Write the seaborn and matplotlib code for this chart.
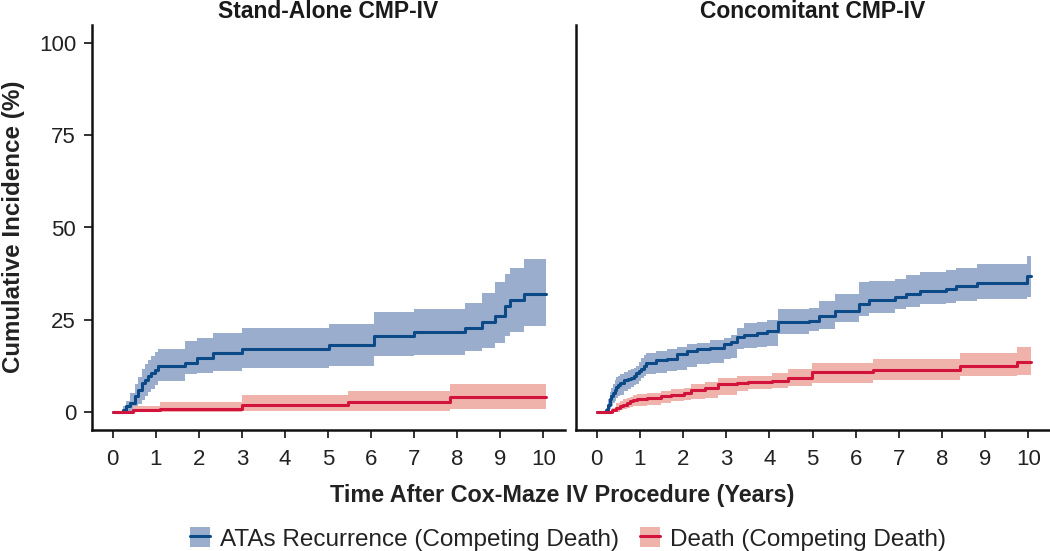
import seaborn as sns
import matplotlib.pyplot as plt
import pandas as pd
from matplotlib.lines import Line2D
from matplotlib.patches import Patch

sns.set_theme(style="ticks")
plt.rcParams["font.family"] = ["Liberation Sans", "DejaVu Sans"]

panels = ["Stand-Alone CMP-IV", "Concomitant CMP-IV"]
series_names = ["ATAs Recurrence (Competing Death)", "Death (Competing Death)"]

# Stand-Alone: ATAs recurrence
sa_ata_time = [0, 0.24, 0.32, 0.40, 0.51, 0.59, 0.67, 0.75, 0.82, 0.90, 0.98, 1.05,
               1.68, 1.95, 2.34, 3.0, 5.03, 6.07, 7.0, 8.18, 8.57, 8.88, 9.1, 9.23,
               9.55, 10.05]
sa_ata_est = [0, 0.5, 1.4, 2.4, 4.2, 6.0, 7.8, 8.7, 9.6, 10.5, 11.4, 12.3,
              13.3, 14.6, 16.0, 17.1, 18.0, 20.5, 21.6, 22.8, 24.2, 26.0, 28.7, 30.3,
              31.9, 31.9]
sa_ata_lo = [0, 0, 0, 0.2, 1.0, 2.0, 3.2, 4.2, 5.2, 6.2, 7.3, 8.3,
             10.1, 10.6, 11.0, 11.9, 12.3, 15.1, 15.3, 16.4, 17.3, 18.5, 20.5, 21.5,
             23.2, 23.2]
sa_ata_hi = [0, 1.5, 3.0, 5.0, 7.5, 9.5, 11.5, 12.8, 14.0, 15.0, 16.2, 16.9,
             19.2, 20.1, 21.4, 22.6, 23.7, 27.1, 27.8, 29.6, 32.3, 35.1, 37.3, 39.1,
             41.4, 41.4]

# Stand-Alone: death
sa_death_time = [0, 0.47, 1.1, 3.0, 5.46, 7.83, 10.05]
sa_death_est = [0, 0.4, 0.8, 1.9, 2.5, 4.0, 4.0]
sa_death_lo = [0, 0, 0, 0.1, 0.2, 0.6, 0.6]
sa_death_hi = [0, 1.6, 2.5, 4.4, 5.5, 7.6, 7.6]

# Concomitant: ATAs recurrence
cc_ata_time = [0, 0.22, 0.26, 0.30, 0.34, 0.38, 0.42, 0.45, 0.49, 0.53,
               0.64, 0.72, 0.80, 0.86, 0.91, 0.97, 1.03, 1.09, 1.15,
               1.38, 1.62, 1.85, 2.08, 2.32, 2.63, 2.94, 3.1, 3.25, 3.41,
               3.72, 3.95, 4.21, 4.91, 5.14, 5.53, 6.08, 6.31, 6.9, 7.17,
               7.48, 8.1, 8.33, 8.8, 9.97, 10.05]
cc_ata_est = [0, 0.4, 1.8, 3.3, 4.2, 5.1, 6.0, 6.8, 7.3, 7.8,
              8.5, 8.8, 9.2, 9.8, 10.4, 11.0, 11.5, 12.4, 13.3,
              14.0, 14.4, 15.6, 16.5, 17.1, 17.4, 18.3, 18.9, 20.3, 20.9,
              21.3, 21.9, 24.2, 24.6, 26.0, 27.3, 29.2, 30.3, 31.0, 31.9,
              32.8, 33.4, 34.0, 34.9, 36.9, 36.9]
cc_ata_lo = [0, 0, 0.2, 0.8, 1.4, 2.2, 3.0, 3.8, 4.2, 4.6,
             5.5, 6.2, 6.8, 7.2, 7.4, 8.2, 9.0, 9.6, 10.1,
             10.6, 11.0, 11.4, 12.0, 12.8, 13.3, 14.2, 14.6, 17.0, 17.3,
             17.6, 17.8, 21.0, 21.8, 22.5, 24.2, 26.0, 26.8, 27.8, 28.4,
             29.2, 29.6, 30.0, 30.5, 31.0, 31.0]
cc_ata_hi = [0, 1.0, 3.5, 5.2, 6.4, 7.6, 8.6, 9.3, 9.8, 10.1,
             10.8, 11.3, 11.6, 11.9, 12.3, 13.5, 14.5, 15.3, 16.0,
             16.5, 16.9, 17.6, 18.3, 18.7, 19.5, 20.1, 20.8, 22.8, 24.0,
             24.4, 24.9, 27.8, 28.2, 30.0, 31.9, 35.1, 35.5, 36.0, 37.0,
             37.8, 38.5, 38.9, 40.1, 42.3, 42.3]

# Concomitant: death
cc_death_time = [0, 0.36, 0.45, 0.53, 0.61, 0.69, 0.77, 0.85, 0.93, 1.16,
                 1.48, 1.71, 2.02, 2.18, 2.5, 2.8, 3.25, 3.5, 4.05, 4.44,
                 4.98, 6.39, 8.41, 9.74, 10.05]
cc_death_est = [0, 0.4, 1.0, 1.5, 1.9, 2.4, 2.8, 3.2, 3.5, 3.7,
                4.2, 4.6, 5.1, 6.0, 6.4, 7.4, 7.8, 8.0, 8.3, 9.2,
                10.7, 11.4, 12.3, 13.5, 13.5]
cc_death_lo = [0, 0, 0, 0.4, 0.8, 1.1, 1.3, 1.5, 1.6, 1.9,
               2.4, 2.8, 3.1, 3.5, 3.8, 4.6, 5.6, 6.2, 6.5, 7.0,
               7.8, 8.5, 9.6, 9.9, 9.9]
cc_death_hi = [0, 1.0, 2.4, 3.0, 3.4, 3.8, 4.0, 4.4, 4.8, 5.1,
               5.6, 6.0, 6.5, 7.4, 8.0, 9.2, 9.6, 9.8, 10.4, 11.5,
               13.3, 14.2, 16.0, 17.6, 17.6]

x_ticks = list(range(0, 11))
y_ticks = [0, 25, 50, 75, 100]

line_colors = ["#0b4a87", "#d2143c"]
band_colors = ["#9aadcd", "#efb3ab"]

curves = {
    panels[0]: [(sa_ata_time, sa_ata_est, sa_ata_lo, sa_ata_hi),
                (sa_death_time, sa_death_est, sa_death_lo, sa_death_hi)],
    panels[1]: [(cc_ata_time, cc_ata_est, cc_ata_lo, cc_ata_hi),
                (cc_death_time, cc_death_est, cc_death_lo, cc_death_hi)],
}

fig = plt.figure(figsize=(10.5, 5.51), dpi=100)
ax_left = fig.add_axes([92 / 1050, 1 - 430 / 551, 473 / 1050, 405 / 551])
ax_right = fig.add_axes([576 / 1050, 1 - 430 / 551, 474 / 1050, 405 / 551])

for ax, panel in zip([ax_left, ax_right], panels):
    for (t, est, lo, hi), band in zip(curves[panel], band_colors):
        ax.fill_between(t, lo, hi, step="post", color=band, linewidth=0)
    for (t, est, lo, hi), name, color in zip(curves[panel], series_names, line_colors):
        df = pd.DataFrame({"time": t, "incidence": est})
        sns.lineplot(data=df, x="time", y="incidence", ax=ax, color=color,
                     linewidth=2.2, drawstyle="steps-post", errorbar=None)
    ax.set_xlim(-0.48, 10.5)
    ax.set_ylim(-5, 105)
    ax.set_xticks(x_ticks)
    ax.set_yticks(y_ticks)
    ax.set_xlabel("")
    ax.set_ylabel("")
    ax.set_title(panel, fontsize=16.5, fontweight="bold", pad=5, color="#1a1a1a")
    ax.tick_params(axis="both", labelsize=16, length=5.5, width=1.3,
                   color="#222222", labelcolor="#222222")
    ax.tick_params(axis="x", pad=8)
    ax.tick_params(axis="y", pad=6)
    sns.despine(ax=ax)
    for side in ["left", "bottom"]:
        ax.spines[side].set_linewidth(1.8)
        ax.spines[side].set_color("#111111")

ax_right.tick_params(axis="y", left=False, labelleft=False)

fig.text(0.535, 0.10, "Time After Cox-Maze IV Procedure (Years)", ha="center",
         va="center", fontsize=16.8, fontweight="bold", color="#222222")
fig.text(0.013, 1 - 227 / 551, "Cumulative Incidence (%)", ha="center",
         va="center", rotation=90, fontsize=17.4, fontweight="bold", color="#222222")

handles = [(Patch(facecolor=b, edgecolor="none"), Line2D([], [], color=c, linewidth=2.2))
           for b, c in zip(band_colors, line_colors)]
fig.legend(handles, series_names, loc="center", bbox_to_anchor=(0.541, 0.022), ncol=2,
           frameon=False, fontsize=17.5, handlelength=0.8, handleheight=0.9,
           columnspacing=0.9, handletextpad=0.4, labelcolor="#222222")

fig.savefig("out.png", dpi=100)
